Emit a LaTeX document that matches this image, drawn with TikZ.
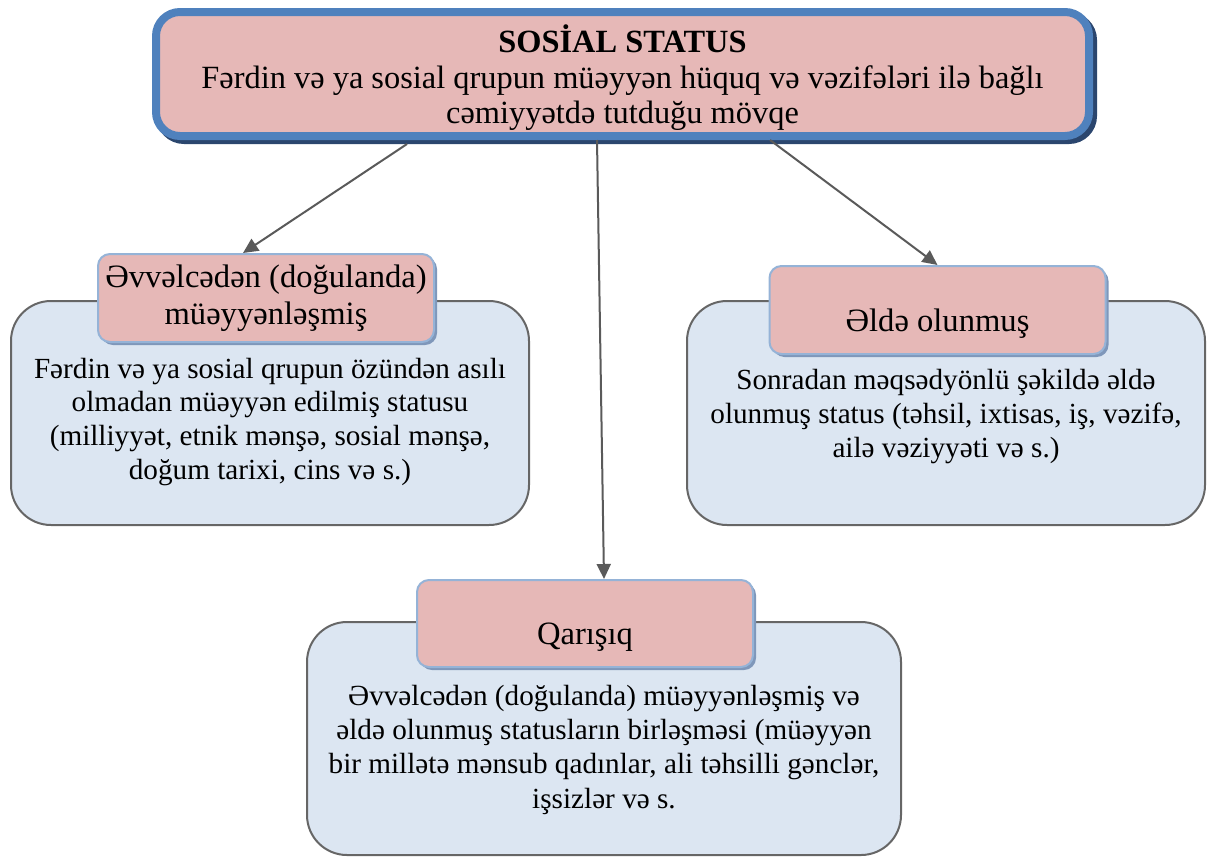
\documentclass[tikz,border=0pt]{standalone}
\usepackage{fontspec}
\setmainfont{Liberation Serif}
\usepackage{tikz}
\usepackage{xcolor}
\usetikzlibrary{shadows,arrows.meta}
\definecolor{statusblue}{HTML}{4F81BD}
\definecolor{statusshadow}{HTML}{2B466E}
\definecolor{titlepink}{HTML}{E6B8B7}
\definecolor{titleborder}{HTML}{95B3D7}
\definecolor{titleshadow}{HTML}{7F97BA}
\definecolor{bodyfill}{HTML}{DCE6F2}
\definecolor{bodyborder}{HTML}{666666}
\definecolor{linkgray}{HTML}{5A5A5A}
\tikzset{
    status-box/.style = {draw=statusblue, fill=titlepink, line width=4pt, rectangle, rounded corners=12pt, inner ysep=1pt,
        minimum width=466.5pt, minimum height=62pt, align=center, font=\fontsize{16.2}{17.8}\selectfont,
        drop shadow={fill=statusshadow, draw=statusshadow, line width=4pt, opacity=1, shadow xshift=2pt, shadow yshift=-2pt}},
    body-box/.style = {draw=bodyborder, fill=bodyfill, line width=1pt, rectangle, rounded corners=20pt,
        minimum width=259pt, minimum height=112pt, align=center, font=\fontsize{14.6}{16.9}\selectfont},
    title-box/.style = {draw=titleborder, fill=titlepink, line width=1pt, rectangle, rounded corners=6pt,
        minimum width=168pt, minimum height=44pt, align=center, font=\fontsize{16.3}{18.5}\selectfont,
        drop shadow={fill=titleshadow, opacity=1, shadow xshift=1.5pt, shadow yshift=-1.5pt}},
    link/.style = {draw=linkgray, line width=1pt, -{Triangle[length=7.5pt,width=7pt]}},
}

\begin{document}
\begin{tikzpicture}[x=0.5pt,y=-0.5pt]
\useasboundingbox (0,0) rectangle (1215,857);

\node [body-box] (born-body) at (270,413) {\\[2pt]Fərdin və ya sosial qrupun özündən asılı\\olmadan müəyyən edilmiş statusu\\(milliyyət, etnik mənşə, sosial mənşə,\\doğum tarixi, cins və s.)};
\node [body-box] (earned-body) at (946,413) {\\[-3pt]Sonradan məqsədyönlü şəkildə əldə\\olunmuş status (təhsil, ixtisas, iş, vəzifə,\\ailə vəziyyəti və s.)};
\node [body-box, minimum width=297pt, minimum height=116.5pt, font=\fontsize{14.6}{17.2}\selectfont] (mixed-body) at (604,738.5) {\\[4pt]Əvvəlcədən (doğulanda) müəyyənləşmiş və\\əldə olunmuş statusların birləşməsi (müəyyən\\bir millətə mənsub qadınlar, ali təhsilli gənclər,\\işsizlər və s.};

\node [title-box] (born) at (266,298) {Əvvəlcədən (doğulanda)\\müəyyənləşmiş};
\node [title-box, text height=24pt, text depth=3pt] (earned) at (937.5,310) {Əldə olunmuş};
\node [title-box, minimum height=43.5pt, text height=24pt, text depth=3pt] (mixed) at (585,623.5) {Qarışıq};

\node [status-box] (status) at (622.5,74) {\\[0pt]\textbf{SOSİAL STATUS}\\Fərdin və ya sosial qrupun müəyyən hüquq və vəzifələri ilə bağlı\\cəmiyyətdə tutduğu mövqe};

\draw [link] ([xshift=-107.75pt,yshift=-2pt]status.south) -- ([xshift=-11.5pt]born.north);
\draw [link] ([xshift=-12.75pt]status.south) -- ([xshift=9.5pt]mixed.north);
\draw [link] ([xshift=73.75pt]status.south) -- (earned.north);
\end{tikzpicture}
\end{document}
